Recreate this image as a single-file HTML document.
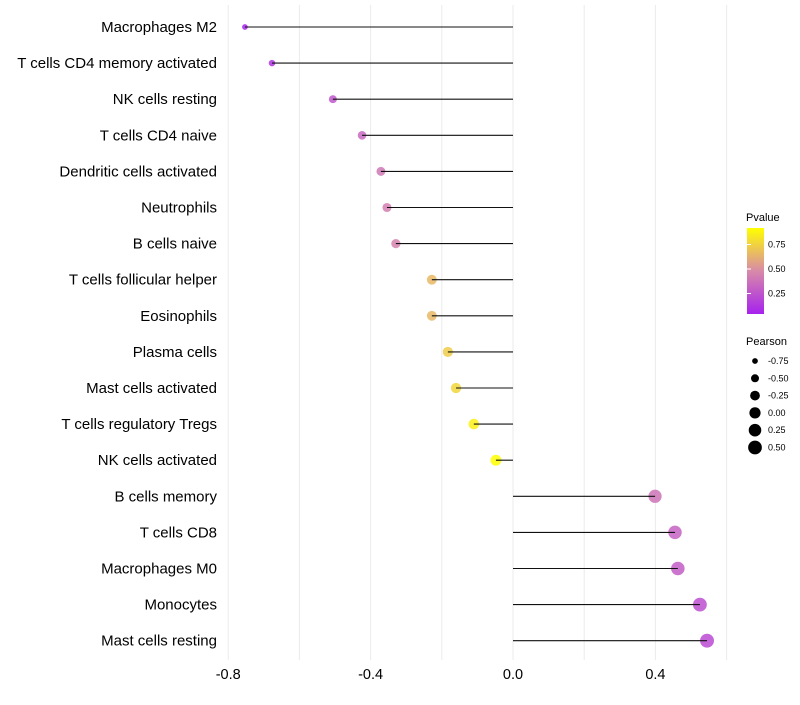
<!DOCTYPE html>
<html><head><meta charset="utf-8"><style>
body{margin:0;background:#fff;font-family:"Liberation Sans",sans-serif;}
svg text{font-family:"Liberation Sans",sans-serif;}
</style></head><body>
<svg id="chart" width="800" height="700" xmlns="http://www.w3.org/2000/svg">
<defs><linearGradient id="pg" x1="0" y1="1" x2="0" y2="0">
<stop offset="0" stop-color="#A622EE"/><stop offset="0.5" stop-color="#D88AA8"/><stop offset="1" stop-color="#FFFF00"/>
</linearGradient></defs>
<g id="grid"></g>
<g id="marks"></g>
<g id="ylabels"></g>
<g id="xlabels"></g>
<g>
<text x="746" y="221" font-size="11">Pvalue</text>
<rect x="747" y="228" width="17" height="86" fill="url(#pg)"/>
<g id="pvticks"></g>
</g>
<g id="sizeLegend">
<text x="746" y="345" font-size="11">Pearson</text>
</g>
</svg>
<script>
const categories=["Macrophages M2","T cells CD4 memory activated","NK cells resting","T cells CD4 naive","Dendritic cells activated","Neutrophils","B cells naive","T cells follicular helper","Eosinophils","Plasma cells","Mast cells activated","T cells regulatory  Tregs","NK cells activated","B cells memory","T cells CD8","Macrophages M0","Monocytes","Mast cells resting"];
const pearson=[-0.753,-0.677,-0.506,-0.424,-0.371,-0.354,-0.329,-0.228,-0.228,-0.183,-0.160,-0.110,-0.048,0.399,0.455,0.463,0.525,0.545];
const pvalue=[0.05,0.12,0.27,0.35,0.42,0.45,0.47,0.68,0.68,0.76,0.8,0.9,0.96,0.4,0.32,0.3,0.24,0.22];
const xTicks=[-0.8,-0.4,0.0,0.4];
const xGrid=[-0.8,-0.6,-0.4,-0.2,0,0.2,0.4,0.6];
const pvTicks=[0.25,0.5,0.75];
const sizeBreaks=[-0.75,-0.5,-0.25,0,0.25,0.5];
const NS="http://www.w3.org/2000/svg";
const X=v=>513+v*356;
const Y=i=>27+i*36.1;
const R=v=>Math.max(1.5,Math.sqrt(Math.max(0,16+(v+0.5)*31)));
function col(p){const t=(p-0.04)/0.92;const a=[166,34,238],m=[216,138,168],b=[255,255,0];let c;
 if(t<0.5){const u=Math.max(0,t/0.5);c=a.map((x,k)=>x+(m[k]-x)*u);}else{const u=Math.min(1,(t-0.5)/0.5);c=m.map((x,k)=>x+(b[k]-x)*u);}
 return `rgb(${c.map(Math.round).join(",")})`;}
function mk(tag,at,parent,txt){const e=document.createElementNS(NS,tag);for(const k in at)e.setAttribute(k,at[k]);if(txt!==undefined)e.textContent=txt;parent.appendChild(e);return e;}
const grid=document.getElementById('grid');
xGrid.forEach(v=>{const l=mk('line',{x1:X(v),x2:X(v),y1:5,y2:660,stroke:"#ebebeb","stroke-width":1},grid);

});
const xl=document.getElementById('xlabels');
xTicks.forEach(v=>{const t=mk('text',{x:X(v),y:679,"font-size":14.5,"text-anchor":"middle",fill:"#000"},xl,v.toFixed(1));

});
const marks=document.getElementById('marks'),yl=document.getElementById('ylabels');
categories.forEach((c,i)=>{
 const y=Y(i);
 const p=mk('circle',{cx:X(pearson[i]),cy:y,r:R(pearson[i]),fill:col(pvalue[i]),"fill-opacity":0.85},marks);
 
 
 const l=mk('line',{x1:X(0),x2:X(pearson[i]),y1:y,y2:y,stroke:"#111","stroke-width":1.1},marks);
 
 
 const t=mk('text',{x:217,y:y+5,"font-size":15,"text-anchor":"end",fill:"#000"},yl,c);
 
 
});
const pv=document.getElementById('pvticks');
pvTicks.forEach(v=>{const y=318-v*98;
 const l=mk('line',{x1:747,x2:751,y1:y,y2:y,stroke:"#fff"},pv);
 
 
 const t=mk('text',{x:768,y:y+3,"font-size":9},pv,v.toFixed(2));
 
 });
const sl=document.getElementById('sizeLegend');
sizeBreaks.forEach((v,i)=>{const y=361+i*17.3;
 const c=mk('circle',{cx:755,cy:y,r:R(v),fill:"#000"},sl);
 
 
 const t=mk('text',{x:768,y:y+3,"font-size":9},sl,v.toFixed(2));
 
 });
</script>
</body></html>
